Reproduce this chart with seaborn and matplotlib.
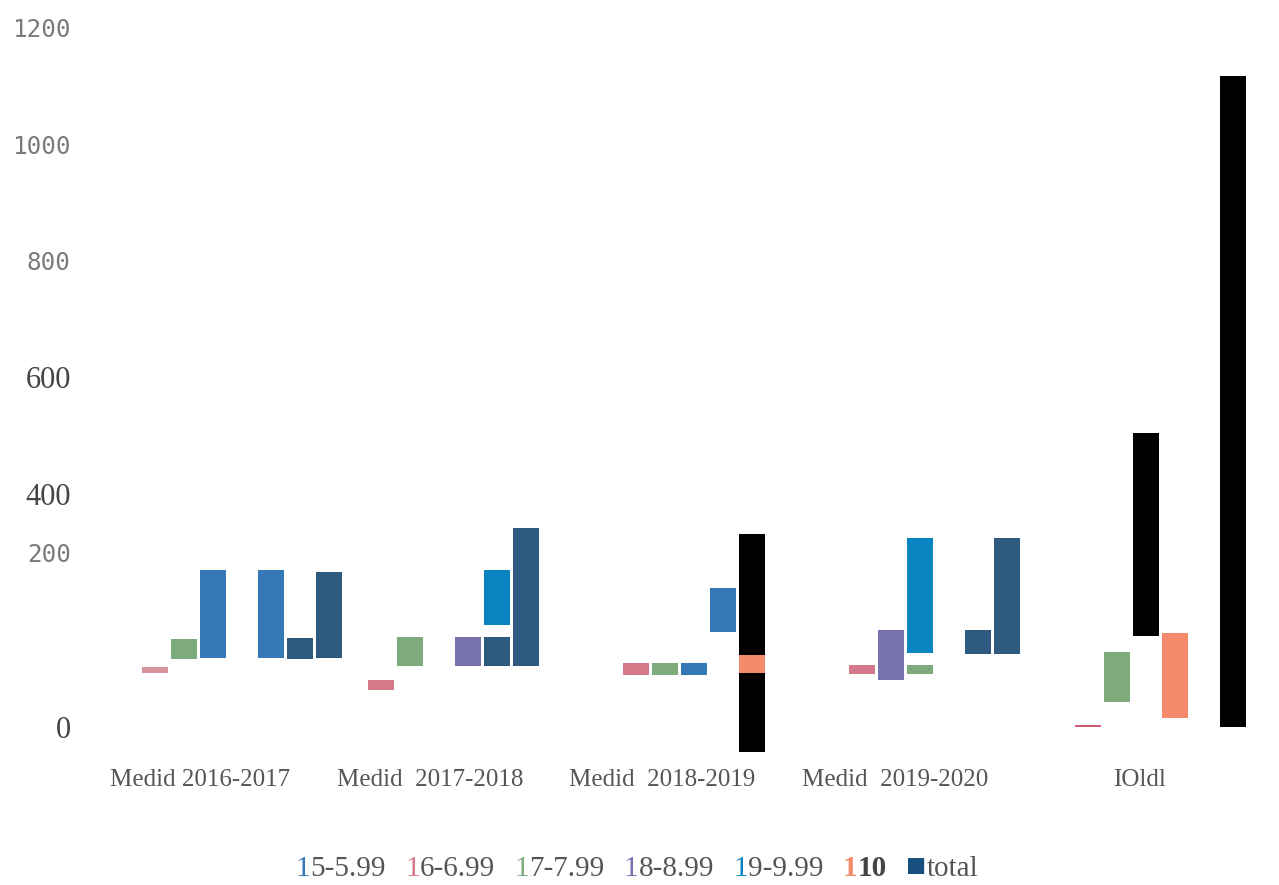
import pandas as pd
import matplotlib.pyplot as plt
import seaborn as sns
from matplotlib.transforms import ScaledTranslation
from matplotlib.offsetbox import TextArea, HPacker, AnchoredOffsetbox

groups = ["Medid 2016-2017", "Medid  2017-2018", "Medid  2018-2019", "Medid  2019-2020", "IOldl"]
series = ["5-5.99", "6-6.99", "7-7.99", "8-8.99", "9-9.99", "10", "total"]
bars = ["b1", "b2", "b3", "b4", "b5", "b6", "b7"]

# one entry per mark (floating bars: low -> high)
mark_group = [0, 0, 0, 0, 0, 0,
              1, 1, 1, 1, 1, 1,
              2, 2, 2, 2, 2, 2,
              3, 3, 3, 3, 3, 3,
              4, 4, 4, 4, 4]
mark_bar = ["b1", "b2", "b3", "b5", "b6", "b7",
            "b1", "b2", "b4", "b5", "b5", "b6",
            "b2", "b3", "b4", "b5", "b6", "b6",
            "b2", "b3", "b4", "b4", "b6", "b7",
            "b2", "b3", "b4", "b5", "b7"]
mark_series = ["6-6.99", "7-7.99", "5-5.99", "9-9.99", "8-8.99", "total",
               "6-6.99", "7-7.99", "8-8.99", "5-5.99", "9-9.99", "total",
               "6-6.99", "7-7.99", "5-5.99", "9-9.99", "total", "10",
               "6-6.99", "8-8.99", "7-7.99", "9-9.99", "5-5.99", "total",
               "6-6.99", "7-7.99", "9-9.99", "10", "total"]
mark_low = [93, 117, 118, 118, 117, 118,
            64, 105, 105, 105, 175, 105,
            89, 89, 89, 163, -43, 93,
            91, 81, 91, 127, 125, 125,
            0, 43, 156, 15, 0]
mark_high = [103, 151, 269, 269, 153, 266,
             81, 155, 155, 155, 270, 342,
             110, 110, 110, 239, 331, 124,
             106, 167, 106, 325, 167, 325,
             3, 129, 505, 161, 1118]

ytick_values = [0, 200, 400, 600, 800, 1000, 1200]

palette = {"5-5.99": "#3479b6", "6-6.99": "#d4788a", "7-7.99": "#7eab7c",
           "8-8.99": "#7771b0", "9-9.99": "#0984c1", "10": "#f4896b", "total": "#2e5a80"}
# marks that came out in another colour than their series
recolor = {(0, "6-6.99"): "#d8939b", (0, "9-9.99"): "#3479b6", (0, "8-8.99"): "#2e5a80",
           (1, "5-5.99"): "#2e5a80", (2, "9-9.99"): "#3479b6", (2, "total"): "black",
           (3, "5-5.99"): "#2e5a80", (4, "6-6.99"): "#cc5a74",
           (4, "9-9.99"): "black", (4, "total"): "black"}

df = pd.DataFrame({"group": [groups[i] for i in mark_group], "gidx": mark_group,
                   "bar": mark_bar, "series": mark_series,
                   "low": mark_low, "high": mark_high})
df["layer"] = df.groupby(["group", "bar"]).cumcount()

sns.set_style("white")
fig = plt.figure(figsize=(12.79, 8.85), dpi=100)
ax = fig.add_axes([129 / 1279, 1 - 756 / 885, 1130 / 1279, 745.5 / 885])

width = 0.9
for layer, part in df.groupby("layer"):
    n0 = len(ax.patches)
    sns.barplot(data=part, x="group", y="high", hue="bar", order=groups, hue_order=bars,
                dodge=True, width=width, gap=0.1, errorbar=None, legend=False,
                linewidth=0, ax=ax)
    for p in list(ax.patches)[n0:]:
        cx = p.get_x() + p.get_width() / 2
        g = int(round(cx))
        s = int(round((cx - g) / (width / len(bars)) + 3))
        row = part[(part["gidx"] == g) & (part["bar"] == bars[s])].iloc[0]
        p.set_y(row["low"])
        p.set_height(row["high"] - row["low"])
        p.set_facecolor(recolor.get((g, row["series"]), palette[row["series"]]))
        p.set_edgecolor("none")

ax.set_xlim(-0.5, 4.5)
ax.set_ylim(-50, 1230)
ax.set_xlabel("")
ax.set_ylabel("")
sns.despine(ax=ax, left=True, bottom=True)
ax.grid(False)

# x labels
ax.set_xticks(range(len(groups)), groups)
ax.tick_params(axis="x", length=0, pad=9)
x_shift = [-42, -38, -32, -25, -6]
for lbl, dx in zip(ax.get_xticklabels(), x_shift):
    lbl.set_fontfamily("Liberation Serif")
    lbl.set_fontsize(18)
    lbl.set_color("#555555")
    lbl.set_transform(lbl.get_transform() + ScaledTranslation(dx / 100, 0, fig.dpi_scale_trans))

# y labels, mixed fonts as in the source
ax.set_yticks(ytick_values, [str(v) for v in ytick_values])
ax.tick_params(axis="y", length=0, pad=42)
mono = [False, True, False, False, True, True, True]
for lbl, m in zip(ax.get_yticklabels(), mono):
    if m:
        lbl.set_fontfamily("DejaVu Sans Mono")
        lbl.set_fontsize(17.5)
        lbl.set_color("#7a7a7a")
    else:
        lbl.set_fontfamily("Liberation Serif")
        lbl.set_fontsize(22)
        lbl.set_color("#444444")
lbl200 = ax.get_yticklabels()[1]
lbl200.set_transform(lbl200.get_transform() + ScaledTranslation(0, 0.575, fig.dpi_scale_trans))

# legend drawn as text pieces
fam = ["Liberation Serif", "DejaVu Sans"]
entries = []
for name in series:
    bold = name == "10"
    mark = "■" if name == "total" else "1"
    mcol = "#17507f" if name == "total" else palette[name]
    msize = 24 if name == "total" else 21
    entries.append(HPacker(children=[
        TextArea(mark, textprops=dict(color=mcol, family=fam, size=msize,
                                      weight="bold" if bold else "normal")),
        TextArea(name, textprops=dict(color="#444444" if bold else "#555555", family=fam,
                                      size=21, weight="bold" if bold else "normal")),
    ], sep=0, align="baseline"))
leg = AnchoredOffsetbox(loc="center", child=HPacker(children=entries, sep=14, align="baseline"),
                        bbox_to_anchor=(0.498, 1 - 868 / 885), bbox_transform=fig.transFigure,
                        frameon=False, pad=0, borderpad=0)
fig.add_artist(leg)

fig.savefig("out.png", dpi=100)
